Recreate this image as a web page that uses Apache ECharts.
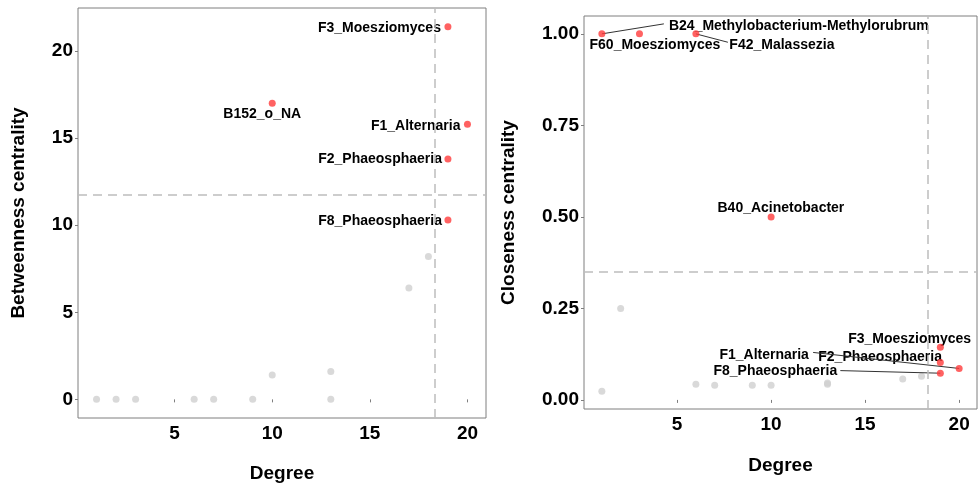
<!DOCTYPE html>
<html>
<head>
<meta charset="utf-8">
<script src="https://cdn.jsdelivr.net/npm/echarts@6/dist/echarts.min.js"></script>
<style>
  html, body { margin: 0; padding: 0; background: #fff; }
  #chart { width: 978px; height: 489px; }
</style>
</head>
<body>
<div id="chart"></div>
<script>
// ---- Betweenness panel ----
const hubNamesB = ['F3_Moesziomyces', 'B152_o_NA', 'F1_Alternaria', 'F2_Phaeosphaeria', 'F8_Phaeosphaeria'];
const hubDegreeB = [19, 10, 20, 19, 19];
const hubBetween = [21.4, 17.0, 15.8, 13.8, 10.3];
const otherDegreeB = [1, 2, 3, 6, 7, 9, 10, 13, 13, 17, 18];
const otherBetween = [0, 0, 0, 0, 0, 0, 1.4, 1.6, 0, 6.4, 8.2];

// ---- Closeness panel ----
const hubNamesC = ['B24_Methylobacterium-Methylorubrum', 'F60_Moesziomyces', 'F42_Malassezia', 'B40_Acinetobacter',
                   'F3_Moesziomyces', 'F2_Phaeosphaeria', 'F1_Alternaria', 'F8_Phaeosphaeria'];
const hubDegreeC = [1, 3, 6, 10, 19, 19, 20, 19];
const hubClose = [1.0, 1.0, 1.0, 0.5, 0.144, 0.102, 0.086, 0.073];
const otherDegreeC = [1, 2, 6, 7, 9, 10, 13, 13, 17, 18];
const otherClose = [0.024, 0.25, 0.043, 0.040, 0.040, 0.040, 0.043, 0.046, 0.057, 0.065];

// thresholds (dashed guides)
const degreeCut = 18.35;
const betweenCut = 11.77;
const closeCut = 0.35;

// tick labels
const degreeTicks = [5, 10, 15, 20];
const betweenTicks = [0, 5, 10, 15, 20];
const closeTicks = [0, 0.25, 0.5, 0.75, 1.0];

// label placement (pixel offsets from the point; optional leader end)
const labelPlaceB = [
  { dx: -7, dy: 1.5, align: 'right' },
  { dx: -10, dy: 11, align: 'center' },
  { dx: -7, dy: 1.7, align: 'right' },
  { dx: -6, dy: 0.6, align: 'right' },
  { dx: -6, dy: 1, align: 'right' }
];
const labelPlaceC = [
  { dx: 197, dy: -7.6, align: 'center', lead: [62, -10] },
  { dx: 15.4, dy: 11.7, align: 'center' },
  { dx: 86, dy: 11, align: 'center', lead: [32, 8.4] },
  { dx: 9.8, dy: -8.4, align: 'center' },
  { dx: -30.7, dy: -8.3, align: 'center' },
  { dx: -60.2, dy: -5.9, align: 'center' },
  { dx: -195, dy: -13.6, align: 'center', lead: [-146, -16] },
  { dx: -165, dy: -1.6, align: 'center', lead: [-100, -2.6] }
];

const FONT = '"Liberation Sans", Arial, sans-serif';
const RED = '#ff3b3b';
const GREY = '#cfcfcf';
const FRAME = '#7f7f7f';

const zip = (a, b) => a.map((v, i) => [v, b[i]]);

function xAxisCfg(gridIndex, gap) {
  return {
    type: 'value', gridIndex, min: 0.05, max: 20.95,
    name: 'Degree', nameLocation: 'middle', nameGap: gap,
    nameTextStyle: { fontSize: 19, fontWeight: 'bold', color: '#000', fontFamily: FONT },
    axisLine: { show: false },
    axisTick: { show: true, length: 3, lineStyle: { color: FRAME }, customValues: degreeTicks },
    axisLabel: { customValues: degreeTicks, fontSize: 19, fontWeight: 'bold', color: '#000', fontFamily: FONT, margin: 6 },
    splitLine: { show: false }
  };
}

function yAxisCfg(gridIndex, name, min, max, ticks, gap, fmt) {
  return {
    type: 'value', gridIndex, min, max,
    name, nameLocation: 'middle', nameGap: gap,
    nameTextStyle: { fontSize: 19, fontWeight: 'bold', color: '#000', fontFamily: FONT },
    axisLine: { show: false },
    axisTick: { show: true, length: 3, lineStyle: { color: FRAME }, customValues: ticks },
    axisLabel: { customValues: ticks, fontSize: 19, fontWeight: 'bold', color: '#000', fontFamily: FONT, margin: 5,
                 formatter: fmt },
    splitLine: { show: false }
  };
}

function labelSeries(axisIndex, degrees, values, names, place) {
  return {
    type: 'custom', xAxisIndex: axisIndex, yAxisIndex: axisIndex, z: 3,
    silent: true, clip: false,
    data: zip(degrees, values),
    renderItem(params, api) {
      const p = api.coord([api.value(0), api.value(1)]);
      const lp = place[params.dataIndex];
      const children = [];
      if (lp.lead) {
        children.push({
          type: 'line',
          shape: { x1: p[0], y1: p[1], x2: p[0] + lp.lead[0], y2: p[1] + lp.lead[1] },
          style: { stroke: '#333', lineWidth: 1 }
        });
      }
      children.push({
        type: 'text', x: p[0] + lp.dx, y: p[1] + lp.dy,
        style: {
          text: names[params.dataIndex], align: lp.align, verticalAlign: 'middle',
          font: 'bold 14px ' + FONT, fill: '#000'
        }
      });
      return { type: 'group', children };
    }
  };
}

function guideLines(xv, yv) {
  return {
    silent: true, symbol: 'none', animation: false,
    label: { show: false },
    lineStyle: { color: '#bdbdbd', type: [9, 6], width: 1.5 },
    data: [{ xAxis: xv }, { yAxis: yv }]
  };
}

const chart = echarts.init(document.getElementById('chart'), null, { renderer: 'canvas' });
chart.setOption({
  animation: false,
  backgroundColor: '#fff',
  grid: [
    { left: 78, top: 8, width: 408, height: 410, show: true, borderColor: FRAME, borderWidth: 1, backgroundColor: '#fff' },
    { left: 584, top: 16, width: 393, height: 393, show: true, borderColor: FRAME, borderWidth: 1, backgroundColor: '#fff' }
  ],
  xAxis: [xAxisCfg(0, 46), xAxisCfg(1, 47)],
  yAxis: [
    yAxisCfg(0, 'Betweenness centrality', -1.07, 22.47, betweenTicks, 50, v => String(v)),
    yAxisCfg(1, 'Closeness centrality', -0.0248, 1.0488, closeTicks, 66, v => v.toFixed(2))
  ],
  series: [
    {
      type: 'scatter', xAxisIndex: 0, yAxisIndex: 0, z: 2,
      symbolSize: 7, itemStyle: { color: GREY },
      data: zip(otherDegreeB, otherBetween),
      markLine: guideLines(degreeCut, betweenCut)
    },
    labelSeries(0, hubDegreeB, hubBetween, hubNamesB, labelPlaceB),
    {
      type: 'scatter', xAxisIndex: 0, yAxisIndex: 0, z: 4,
      symbolSize: 7, itemStyle: { color: RED },
      data: zip(hubDegreeB, hubBetween)
    },
    {
      type: 'scatter', xAxisIndex: 1, yAxisIndex: 1, z: 2,
      symbolSize: 7, itemStyle: { color: GREY },
      data: zip(otherDegreeC, otherClose),
      markLine: guideLines(degreeCut, closeCut)
    },
    labelSeries(1, hubDegreeC, hubClose, hubNamesC, labelPlaceC),
    {
      type: 'scatter', xAxisIndex: 1, yAxisIndex: 1, z: 4,
      symbolSize: 7, itemStyle: { color: RED },
      data: zip(hubDegreeC, hubClose)
    }
  ]
});
</script>
</body>
</html>
